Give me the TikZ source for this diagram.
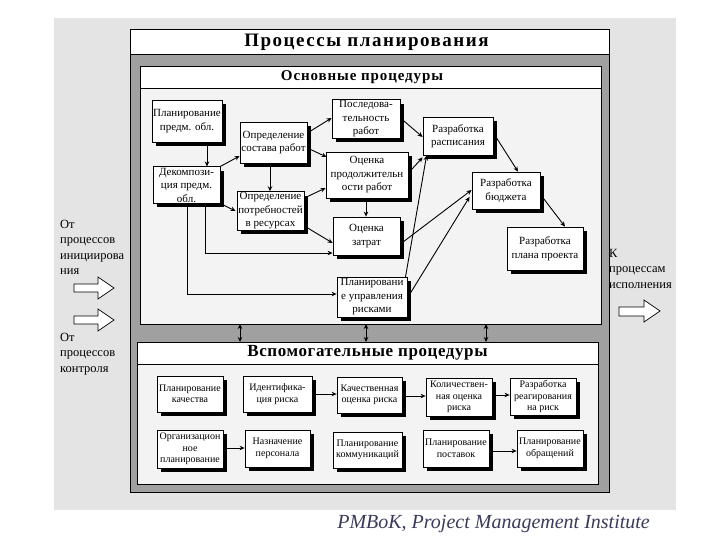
\documentclass[tikz,border=0pt]{standalone}
\usepackage{fontspec}
\setmainfont{Liberation Serif}
\usetikzlibrary{calc,shadows,arrows.meta}
\definecolor{bgpanel}{RGB}{228,228,228}
\definecolor{bandgray}{RGB}{160,160,160}
\definecolor{panelfill}{RGB}{243,243,243}
\definecolor{captioncol}{RGB}{58,58,92}
\tikzset{
  mbox/.style={draw=black, line width=0.8pt, fill=white, align=center, inner sep=1pt,
    font=\fontsize{11}{13.5}\selectfont,
    drop shadow={shadow xshift=4pt, shadow yshift=-4pt, fill=black, opacity=1}},
  abox/.style={mbox, font=\fontsize{10}{11.5}\selectfont},
  conn/.style={line width=0.9pt, -{Stealth[length=5pt,width=4.5pt]}},
  dconn/.style={line width=0.9pt, {Stealth[length=5pt,width=4.5pt]}-{Stealth[length=5pt,width=4.5pt]}},
  sidetext/.style={align=left, font=\fontsize{12.5}{15.5}\selectfont, inner sep=0pt},
  blockarrow/.style={draw=black, line width=0.7pt, fill=white},
  panel/.style={draw=black, line width=0.8pt, inner sep=0pt}
}
\begin{document}
\begin{tikzpicture}[x=1pt,y=-1pt]
\useasboundingbox (0,0) rectangle (720,540);
\fill[white] (0,0) rectangle (720,540);
% light background panel
\fill[bgpanel] (54,18) rectangle (676,510);
% outer frame
\node[panel, fill=bandgray, minimum width=479, minimum height=463] (frame) at (369.5,260.5) {};
\node[panel, fill=white, minimum width=479, minimum height=25] (titlebox) at (369.5,41.5) {};
\node[inner sep=0pt, font=\fontsize{19}{22}\selectfont\bfseries\addfontfeature{LetterSpace=8}] (title) at (366.5,42) {Процессы планирования};
% main panel
\node[panel, fill=panelfill, minimum width=461, minimum height=236] (mainp) at (370.5,206) {};
\node[panel, fill=white, minimum width=461, minimum height=22] (maintbox) at (370.5,77) {};
\node[inner sep=0pt, font=\fontsize{15}{18}\selectfont\bfseries\addfontfeature{LetterSpace=6}] (maint) at (362,77) {Основные процедуры};
% aux panel
\node[panel, fill=panelfill, minimum width=461, minimum height=120] (auxp) at (367.5,424) {};
\node[panel, fill=white, minimum width=461, minimum height=22, font=\fontsize{17}{20}\selectfont\bfseries\addfontfeature{LetterSpace=3.5}] (auxt) at (367.5,353) {Вспомогательные процедуры};

% panel connectors
\coordinate (pa1) at (240,324); \coordinate (pb1) at (240,342);
\coordinate (pa2) at (366,324); \coordinate (pb2) at (366,342);
\coordinate (pa3) at (486,324); \coordinate (pb3) at (486,342);
\draw[dconn] (pa1) -- (pb1);
\draw[dconn] (pa2) -- (pb2);
\draw[dconn] (pa3) -- (pb3);

% main boxes
\node[mbox, minimum width=70, minimum height=42] (plan) at (187,121) {Планирование\\предм. обл.};
\node[mbox, minimum width=67, minimum height=36] (decomp) at (186.5,185) {Декомпози-\\ция предм.\\обл.};
\node[mbox, minimum width=67, minimum height=41] (sostav) at (273.5,142.5) {Определение\\состава работ};
\node[mbox, minimum width=67, minimum height=38] (potreb) at (270.5,211) {Определение\\потребностей\\в ресурсах};
\node[mbox, minimum width=68, minimum height=38] (posled) at (366,119) {Последова-\\тельность\\работ};
\node[mbox, minimum width=82, minimum height=46] (prodol) at (367,175) {Оценка\\продолжительн\\ости работ};
\node[mbox, minimum width=67, minimum height=38] (zatrat) at (366.5,236) {Оценка\\затрат};
\node[mbox, minimum width=70, minimum height=40] (risk) at (372,297) {Планировани\\е управления\\рисками};
\node[mbox, minimum width=70, minimum height=38] (raspis) at (458,136) {Разработка\\расписания};
\node[mbox, minimum width=68, minimum height=37] (budget) at (506,190.5) {Разработка\\бюджета};
\node[mbox, minimum width=76, minimum height=43] (planpr) at (545,248.5) {Разработка\\плана проекта};

% main connectors
\draw[conn] ($(plan.south)+(20,0)$) -- ($(decomp.north)+(20.5,0)$);
\draw[conn] (decomp.north east) -- ($(sostav.west)+(0,13.5)$);
\draw[conn] ($(sostav.east)+(0,-9.5)$) -- ($(posled.west)+(0,-1)$);
\draw[conn] ($(sostav.east)+(0,5.5)$) -- ($(prodol.west)+(1,-18)$);
\draw[conn] ($(sostav.south)+(-3.5,0)$) -- ($(potreb.north)+(-0.5,0)$);
\draw[conn] (decomp.south east) -- ($(potreb.west)+(-1,0)$);
\draw[conn] ($(potreb.east)+(0,-13)$) -- ($(prodol.west)+(0,13)$);
\draw[conn] ($(potreb.east)+(0,15)$) -- ($(zatrat.west)+(0,7)$);
\draw[conn] ($(prodol.south)+(-1,0)$) -- ($(zatrat.north)+(-0.5,0)$);
\draw[conn] ($(decomp.south)+(18.5,0)$) |- ($(zatrat.west)+(0,17)$);
\draw[conn] ($(decomp.south)+(0.5,0)$) |- ($(risk.west)+(0,-3)$);
\draw[conn] ($(posled.east)+(0,-1)$) -- ($(raspis.west)+(0,1)$);
\draw[conn] ($(prodol.east)+(0,-2)$) -- ($(raspis.south west)+(0,2)$);
\draw[conn] ($(risk.north east)+(-2,1)$) -- ($(raspis.south west)+(4,0)$);
\draw[conn] ($(zatrat.east)+(0,8)$) -- ($(budget.west)+(0,-0.5)$);
\draw[conn] ($(risk.east)+(0,1)$) -- ($(budget.south west)+(-2,-12.5)$);
\draw[conn] ($(raspis.east)+(0,-3)$) -- ($(budget.north)+(12,0)$);
\draw[conn] ($(budget.east)+(2,6.5)$) -- ($(planpr.north)+(20,0)$);

% aux boxes
\node[abox, minimum width=66, minimum height=36] (kach) at (190,394) {Планирование\\качества};
\node[abox, minimum width=69, minimum height=36] (ident) at (277.5,394) {Идентифика-\\ция риска};
\node[abox, minimum width=65, minimum height=36] (kachoc) at (369.5,395) {Качественная\\оценка риска};
\node[abox, minimum width=66, minimum height=38] (kolich) at (459,397) {Количествен-\\ная оценка\\риска};
\node[abox, minimum width=66, minimum height=37] (reag) at (543,396.5) {Разработка\\реагирования\\на риск};
\node[abox, minimum width=66, minimum height=38] (org) at (190,449) {Организацион\\ное\\планирование};
\node[abox, minimum width=65, minimum height=37] (nazn) at (277.5,448.5) {Назначение\\персонала};
\node[abox, minimum width=69, minimum height=36] (komm) at (367.5,450) {Планирование\\коммуникаций};
\node[abox, minimum width=66, minimum height=37] (post) at (456,448.5) {Планирование\\поставок};
\node[abox, minimum width=66, minimum height=37] (obr) at (550,448.5) {Планирование\\обращений};

% aux connectors
\draw[conn] (ident.east) -- (ident.east -| kachoc.west);
\draw[conn] ($(kachoc.east)+(0,1)$) -- ($(kolich.west)+(0,-1)$);
\draw[conn] ($(kolich.east)+(0,-2)$) -- ($(reag.west)+(0,-1.5)$);
\draw[conn] ($(org.east)+(0,-1)$) -- ($(nazn.west)+(0,-0.5)$);
\draw[conn] ($(post.east)+(0,2.5)$) -- ($(obr.west)+(0,2.5)$);

% side texts
\node[sidetext, anchor=north west] (fromInit) at (60,220) {От\\процессов\\инициирова\\ния};
\node[sidetext, anchor=north west] (fromCtrl) at (60,333) {От\\процессов\\контроля};
\node[sidetext, anchor=north west] (toExec) at (609,249) {К\\процессам\\исполнения};

% block arrows
\draw[blockarrow] (74,284) -- (98,284) -- (98,277) -- (114,288) -- (98,299) -- (98,292) -- (74,292) -- cycle;
\draw[blockarrow] (74,316) -- (98,316) -- (98,309) -- (114,320) -- (98,331) -- (98,324) -- (74,324) -- cycle;
\draw[blockarrow] (619,307) -- (644,307) -- (644,300) -- (660,311) -- (644,322) -- (644,316) -- (619,316) -- cycle;

% caption
\node[font=\fontsize{20}{23}\selectfont\itshape, text=captioncol, anchor=east, inner sep=0pt] (caption) at (650,524) {PMBoK, Project Management Institute};
\end{tikzpicture}
\end{document}
